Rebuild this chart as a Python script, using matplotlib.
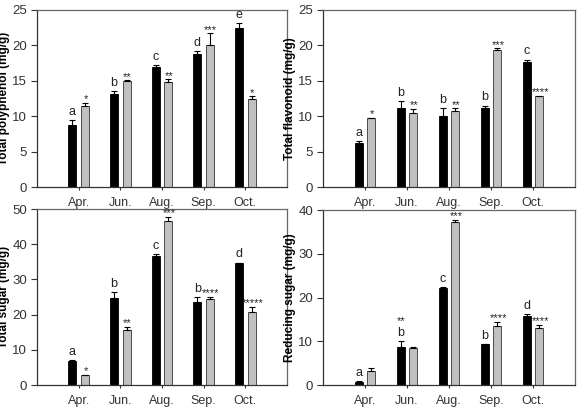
import numpy as np
import matplotlib
matplotlib.use("Agg")
import matplotlib.pyplot as plt

plt.rcParams['font.family'] = ['Liberation Sans', 'DejaVu Sans']

months = ["Apr.", "Jun.", "Aug.", "Sep.", "Oct."]

# total polyphenol
poly_black = [8.8, 13.2, 16.9, 18.8, 22.4]
poly_black_err = [0.7, 0.4, 0.3, 0.4, 0.7]
poly_gray = [11.4, 15.0, 14.8, 20.1, 12.4]
poly_gray_err = [0.5, 0.05, 0.4, 1.6, 0.4]
poly_letters = ["a", "b", "c", "d", "e"]
poly_stars = ["*", "**", "**", "***", "*"]

# total flavonoid
flav_black = [6.2, 11.1, 10.0, 11.2, 17.6]
flav_black_err = [0.3, 1.1, 1.2, 0.3, 0.4]
flav_gray = [9.7, 10.5, 10.8, 19.3, 12.8]
flav_gray_err = [0.1, 0.5, 0.3, 0.3, 0.1]
flav_letters = ["a", "b", "b", "b", "c"]
flav_stars = ["*", "**", "**", "***", "****"]

# total sugar
tsug_black = [6.8, 24.7, 36.7, 23.6, 34.6]
tsug_black_err = [0.2, 1.6, 0.6, 1.3, 0.2]
tsug_gray = [2.7, 15.7, 46.5, 24.3, 20.7]
tsug_gray_err = [0.2, 0.8, 1.2, 0.8, 1.6]
tsug_letters = ["a", "b", "c", "b", "d"]
tsug_stars = ["*", "**", "***", "****", "*****"]

# reducing sugar
rsug_black = [0.7, 8.8, 22.1, 9.3, 15.7]
rsug_black_err = [0.2, 1.2, 0.3, 0.1, 0.6]
rsug_gray = [3.3, 8.4, 37.3, 13.5, 13.1]
rsug_gray_err = [0.5, 0.2, 0.4, 0.9, 0.7]
rsug_letters = ["a", "b", "c", "b", "d"]
rsug_stars = ["", "", "***", "****", "****"]

fig = plt.figure(figsize=(5.78, 4.19), dpi=100)
W, H = 578, 419


def make_ax(l, t, r, b):
    return fig.add_axes([l / W, 1 - b / H, (r - l) / W, (b - t) / H])


def panel(ax, black, berr, gray, gerr, letters, stars, ymax, step, ylabel, xlabel=None):
    x = np.arange(1, 6)
    w = 0.19
    off = 0.15
    zeros = [0] * 5
    ax.bar(x - off, black, w, color="black", edgecolor="black", lw=0.6, zorder=2)
    ax.bar(x + off, gray, w, color="#c0c0c0", edgecolor="#333333", lw=0.6, zorder=2)
    ax.errorbar(x - off, black, yerr=[zeros, berr], fmt="none", ecolor="black",
                elinewidth=0.8, capsize=2.2, capthick=0.8, zorder=3)
    ax.errorbar(x + off, gray, yerr=[zeros, gerr], fmt="none", ecolor="black",
                elinewidth=0.8, capsize=2.2, capthick=0.8, zorder=3)
    for i in range(5):
        ax.annotate(letters[i], (x[i] - off, black[i] + berr[i]), xytext=(0, 1.5),
                    textcoords="offset points", ha="center", va="bottom",
                    fontsize=9, color="#222222")
        if stars[i]:
            ax.annotate(stars[i], (x[i] + off + 0.02, gray[i] + gerr[i]), xytext=(0, -1),
                        textcoords="offset points", ha="center", va="bottom",
                        fontsize=8, color="#222222")
    ax.set_xlim(0, 6)
    ax.set_ylim(0, ymax)
    ax.set_yticks(np.arange(0, ymax + 0.1, step))
    ax.set_xticks(x)
    ax.set_xticklabels(months)
    for s in ax.spines.values():
        s.set_color("#666666")
        s.set_linewidth(0.9)
    ax.spines["left"].set_color("#333333")
    ax.spines["bottom"].set_color("#333333")
    ax.tick_params(axis="y", direction="out", length=4.5, width=0.8, labelsize=9.5,
                   colors="#333333", pad=2.5)
    ax.tick_params(axis="x", direction="out", length=2.5, width=0.8, labelsize=9,
                   colors="#333333", pad=5)
    ax.set_ylabel(ylabel, fontsize=8.5, fontweight="bold")
    if xlabel:
        ax.set_xlabel(xlabel, fontsize=9, labelpad=12)


ax1 = make_ax(37, 10, 287, 187)
panel(ax1, poly_black, poly_black_err, poly_gray, poly_gray_err, poly_letters, poly_stars,
      25, 5, "Total polyphenol (mg/g)")
ax1.yaxis.set_label_coords(-0.106, 0.5)

ax2 = make_ax(323, 10, 575, 187)
panel(ax2, flav_black, flav_black_err, flav_gray, flav_gray_err, flav_letters, flav_stars,
      25, 5, "Total flavonoid (mg/g)")
ax2.yaxis.set_label_coords(-0.108, 0.5)

ax3 = make_ax(37, 209, 287, 385)
panel(ax3, tsug_black, tsug_black_err, tsug_gray, tsug_gray_err, tsug_letters, tsug_stars,
      50, 10, "Total sugar (mg/g)", "Harvest time")
ax3.yaxis.set_label_coords(-0.106, 0.5)

ax4 = make_ax(323, 210, 575, 385)
panel(ax4, rsug_black, rsug_black_err, rsug_gray, rsug_gray_err, rsug_letters, rsug_stars,
      40, 10, "Reducing sugar (mg/g)", "Harvest time")
ax4.yaxis.set_label_coords(-0.108, 0.5)
# the Jun. significance mark sits above the black bar's letter
ax4.annotate("**", (2 - 0.15, rsug_black[1] + rsug_black_err[1]), xytext=(0, 11),
             textcoords="offset points", ha="center", va="bottom", fontsize=8,
             color="#222222")

fig.savefig("out.png", dpi=100)
